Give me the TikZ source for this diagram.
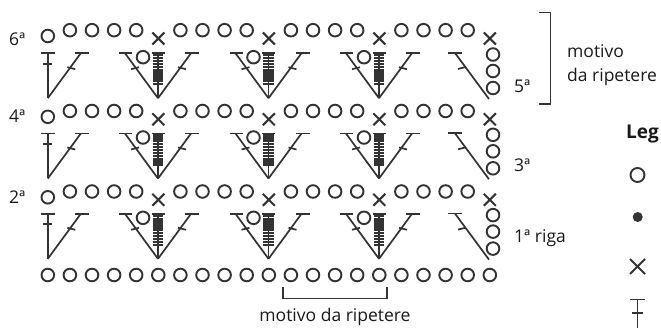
\documentclass[tikz,border=0pt]{standalone}
\usepackage{fontspec}
\setmainfont{Open Sans}
\definecolor{ink}{gray}{0.2}
\tikzset{
  every picture/.style={x=1pt,y=-1pt},
  sym/.style={draw=ink,line width=2.1pt},
  thin sym/.style={draw=ink,line width=1.7pt},
  chain/.style={circle,draw=ink,line width=1.9pt,minimum size=12.6pt,inner sep=0pt},
  lab/.style={text=black!90,font=\fontsize{17.5}{20}\selectfont,inner sep=0pt},
  pics/xstitch/.style={code={
    \draw[sym] (-6,-6)--(6,6) (-6,6)--(6,-6);}},
  pics/leftgroup/.style={code={
    \draw[thin sym] (0,0)--(0,-45);
    \draw[thin sym] (-7,-45)--(7,-45);
    \draw[thin sym] (-5,-34.5)--(4,-34.5);
    \draw[thin sym] (0,0)--(33,-45);
    \draw[thin sym] (27,-45)--(41,-45);
    \draw[thin sym] (19.5,-31)--(27.5,-29);}},
  pics/fan/.style={code={
    \draw[thin sym] (0,0)--(-33,-45);
    \draw[thin sym] (-39,-45)--(-26,-45);
    \draw[thin sym] (-27,-29)--(-19,-31);
    \draw[thin sym] (0,0)--(33,-45);
    \draw[thin sym] (27,-45)--(41,-45);
    \draw[thin sym] (20,-31)--(28,-29);
    \draw[thin sym] (0,0)--(0,-45);
    \draw[thin sym] (-6.5,-45)--(6.5,-45);
    \foreach \k in {0,...,10}{
      \draw[draw=ink,line width=2.3pt] (-5.4,-43+\k*2.9)--(5.4,-43+\k*2.9);}
    \node[chain] at (-15,-41) {};}},
  pics/rightgroup/.style={code={
    \draw[thin sym] (0,0)--(-34,-46);
    \draw[thin sym] (-41,-46)--(-27,-46);
    \draw[thin sym] (-31,-30)--(-23,-32);}}
}
\begin{document}
\begin{tikzpicture}
\useasboundingbox (0,0) rectangle (661,328);
\clip (0,0) rectangle (661,328);
% foundation chain
\foreach \i in {0,...,20}{\node[chain] (b\i) at ({47.8+\i*22.1},275) {};}
% stitch rows 5, 3, 1
\foreach \r/\dy in {1/160.6,3/80.3,5/0}{
  \begin{scope}[shift={(0,\dy)}]
  \path (47.8,98.2) pic {leftgroup};
  \foreach \m in {158,268.5,379}{\path (\m,98.2) pic {fan};}
  \path (489,99) pic {rightgroup};
  \foreach \yy in {54.5,71,88}{\node[chain] at (493,\yy) {};}
  \end{scope}
}
% chain rows 6, 4, 2
\foreach \r/\dy in {6/0,4/80.8,2/161.3}{
  \begin{scope}[shift={(0,\dy)}]
  \node[chain] at (47.8,36) {};
  \foreach \i in {1,2,3,4,6,7,8,9,11,12,13,14,16,17,18,19}{
    \node[chain] at ({47.8+\i*22.1},30.2) {};}
  \foreach \i in {5,10,15,20}{
    \path ({47.8+\i*22.1},38.5) pic {xstitch};}
  \end{scope}
}
% row labels
\node[lab,anchor=base west] (r6) at (9,46) {6ª};
\node[lab,anchor=base west] (r4) at (9,123) {4ª};
\node[lab,anchor=base west] (r2) at (9,204) {2ª};
\node[lab,anchor=base west] (r5) at (514,93) {5ª};
\node[lab,anchor=base west] (r3) at (514,172) {3ª};
\node[lab,anchor=base west] (r1) at (514,243) {1ª riga};
% repeat brackets
\draw[draw=ink,line width=1.9pt] (539,12.5)--(550.5,12.5)--(550.5,104)--(539,104);
\node[lab,anchor=base west] (m1) at (567,58) {motivo};
\node[lab,anchor=base west] (m2) at (567,82) {da ripetere};
\draw[draw=ink,line width=1.9pt] (283,287)--(283,298.5)--(387,298.5)--(387,287);
\node[lab,anchor=base] (m3) at (335,322) {motivo da ripetere};
% legend
\node[lab,anchor=base west,font=\fontsize{19}{21}\selectfont\bfseries] (leg) at (626,139) {Leg};
\node[chain,minimum size=14pt] (l1) at (637.5,175) {};
\fill[ink] (637.7,217) circle (5);
\path (637.5,266.5) pic[scale=1.25] {xstitch};
\draw[thin sym] (630,299.5)--(645,299.5) (637.5,299.5)--(637.5,328) (632,313)--(643,313);
\end{tikzpicture}
\end{document}
